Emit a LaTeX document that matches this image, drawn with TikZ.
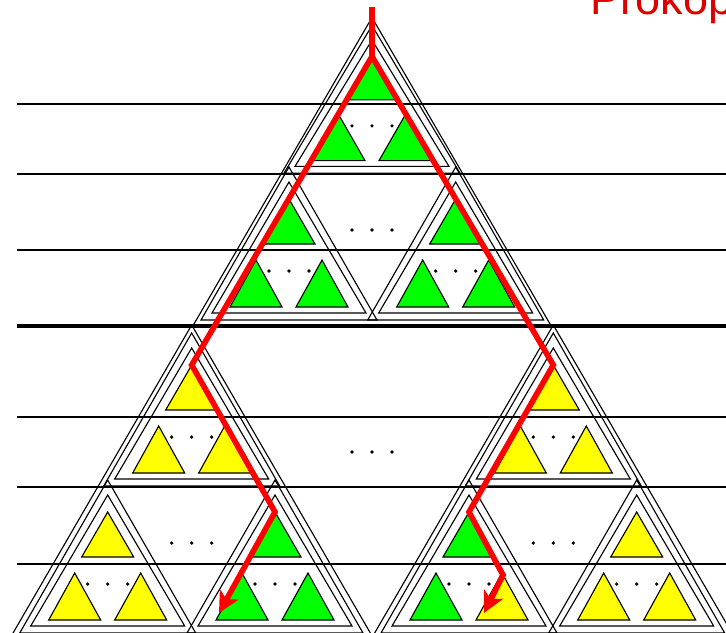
\documentclass[tikz,border=0pt]{standalone}
\usepackage{fontspec}
\setmainfont{Liberation Sans}
\usetikzlibrary{arrows.meta}
\definecolor{VebGreen}{HTML}{00FF00}
\definecolor{VebYellow}{HTML}{FFFF00}
\definecolor{VebRed}{HTML}{FF0000}
\definecolor{LabelRed}{HTML}{DD0000}

\begin{document}
\begin{tikzpicture}[x=0.025cm,y=-0.025cm,line width=0.8pt,line join=miter,
  rule/.style={line width=0.75pt},
  boldrule/.style={line width=2pt},
  heavyrule/.style={line width=3.4pt},
  leaf/.style={draw=black,line width=0.8pt},
  searchline/.style={draw=VebRed,line width=4pt},
  searchtip/.style={-{Stealth[length=15pt,width=15pt,inset=4pt]}}]
  \useasboundingbox (0,0) rectangle (726,633);
  \clip (0,0) rectangle (726,633);
  \foreach \ly/\lw in {104/rule,174/boldrule,250/rule,326/heavyrule,417/rule,487/boldrule,564/rule}
    \draw[\lw] (17,\ly) -- (726,\ly);
  \draw (372,17.5) -- (192.8,326) -- (551.2,326) -- cycle;
  \draw (191.7,325) -- (6.1,645) -- (377.3,645) -- cycle;
  \draw (553.3,325) -- (367.7,645) -- (738.9,645) -- cycle;
  \foreach \bx/\by/\bs/\ct/\cl/\cr in {372/40/0.965/VebGreen/VebGreen/VebGreen,
      289/182/1/VebGreen/VebGreen/VebGreen, 455.7/182/1/VebGreen/VebGreen/VebGreen,
      191.7/348/1/VebYellow/VebYellow/VebYellow, 553.3/348/1/VebYellow/VebYellow/VebYellow,
      107.7/495/1/VebYellow/VebYellow/VebYellow, 275/495/1/VebGreen/VebGreen/VebGreen,
      469/495/1/VebGreen/VebGreen/VebYellow, 636.7/495/1/VebYellow/VebYellow/VebYellow}{
    \begin{scope}[shift={(\bx,\by)},yscale=\bs]
      \draw (0,-15) -- (-88,138) -- (88,138) -- cycle;
      \draw (0,0) -- (-77,131) -- (77,131) -- cycle;
      \draw[leaf,fill=\ct] (0,17) -- (-26,62) -- (26,62) -- cycle;
      \draw[leaf,fill=\cl] (-33,78) -- (-59,125) -- (-7,125) -- cycle;
      \draw[leaf,fill=\cr] (33,78) -- (7,125) -- (59,125) -- cycle;
      \foreach \d in {-20,0,20}
        \fill (\d,89) circle (1.8);
    \end{scope}
  }
  \foreach \cx/\cy in {372/230,372/452,191.7/543,553.3/543}
    \foreach \d in {-20,0,20}
      \fill (\cx+\d,\cy) circle (1.8);
  \coordinate (entry) at (372,7);
  \coordinate (root) at (372,56.4);
  \coordinate (lefttop) at (191.7,365);
  \coordinate (leftleaf) at (275,512);
  \coordinate (lefthit) at (219,613);
  \coordinate (righttop) at (553.3,365);
  \coordinate (rightleaf) at (469,512);
  \coordinate (rightbend) at (503,575);
  \coordinate (righthit) at (484,613);
  \draw[searchline,searchtip] (entry) -- (root) -- (lefttop) -- (leftleaf) -- (lefthit);
  \draw[searchline,searchtip] (entry) -- (root) -- (righttop) -- (rightleaf) -- (rightbend) -- (righthit);
  \node[text=LabelRed,font=\fontsize{32}{36}\selectfont,anchor=base west,inner sep=0pt] (title) at (590,14) {Prokop};
\end{tikzpicture}
\end{document}
